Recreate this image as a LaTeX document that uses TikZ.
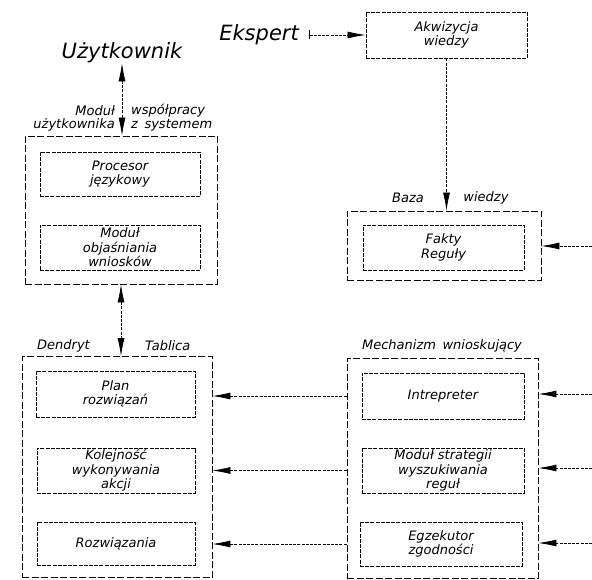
\documentclass[tikz,border=0pt]{standalone}
\usepackage{fontspec}
\setmainfont{DejaVu Sans}
\usetikzlibrary{arrows.meta}
\begin{document}
\begin{tikzpicture}[x=1pt,y=-1pt,
  txt/.style={font=\itshape\fontsize{13}{14.5}\selectfont, inner sep=0pt},
  bigtxt/.style={font=\itshape\fontsize{21}{24}\selectfont, inner sep=0pt},
  inbox/.style={draw, line width=0.85pt, dash pattern=on 4pt off 1.2pt, align=center,
    font=\itshape\fontsize{13}{14.5}\selectfont, inner sep=0pt},
  outbox/.style={draw, line width=0.9pt, dash pattern=on 7pt off 2.5pt, inner sep=0pt},
  tip/.tip={Latex[length=18pt,width=7pt]},
  conn/.style={line width=0.7pt, dash pattern=on 3pt off 1.2pt, -tip},
  dconn/.style={line width=0.7pt, dash pattern=on 3pt off 1.2pt, tip-tip}]
\useasboundingbox (0,0) rectangle (592,580);
% outer boxes
\node[outbox, minimum width=192pt, minimum height=148pt] (lt) at (121,210) {};
\node[outbox, minimum width=194pt, minimum height=69pt] (baza) at (444,245.5) {};
\node[outbox, minimum width=190pt, minimum height=221pt] (lb) at (117,467) {};
\node[outbox, minimum width=191pt, minimum height=220pt] (mech) at (442.5,468) {};
% inner boxes
\node[inbox, minimum width=161pt, minimum height=46pt] (akw) at (446.5,35) {Akwizycja\\wiedzy};
\node[inbox, minimum width=161pt, minimum height=45pt] (fakty) at (443.5,247.5) {Fakty\\Reguły};
\node[inbox, minimum width=160pt, minimum height=44pt] (proc) at (120,174) {Procesor\\językowy};
\node[inbox, minimum width=160pt, minimum height=45pt] (obj) at (120,247.5) {Moduł\\objaśniania\\wniosków};
\node[inbox, minimum width=159pt, minimum height=46pt] (plan) at (115.5,394) {Plan\\rozwiązań};
\node[inbox, minimum width=158pt, minimum height=45pt] (kol) at (116,470.5) {Kolejność\\wykonywania\\akcji};
\node[inbox, minimum width=158pt, minimum height=43pt] (rozw) at (116,543.5) {Rozwiązania};
\node[inbox, minimum width=162pt, minimum height=46pt] (intr) at (443,396) {Intrepreter};
\node[inbox, minimum width=162pt, minimum height=45pt] (strat) at (443,470.5) {Moduł strategii\\wyszukiwania\\reguł};
\node[inbox, minimum width=162pt, minimum height=44pt] (egz) at (441,544) {Egzekutor\\zgodności};
% texts
\node[bigtxt] (user) at (122,53) {Użytkownik};
\node[bigtxt, anchor=east] (eks) at (299,35) {Ekspert};
\node[txt, anchor=east] (m1) at (115,111) {Moduł};
\node[txt, anchor=east] (m2) at (115,125) {użytkownika};
\node[txt, anchor=west] (m3) at (131,111) {współpracy};
\node[txt, anchor=west] (m4) at (131,125) {z\enspace systemem};
\node[txt] (bz1) at (408,198) {Baza};
\node[txt] (bz2) at (486,198) {wiedzy};
\node[txt, anchor=west] (dd) at (37,346) {Dendryt};
\node[txt, anchor=west] (tb) at (145,346) {Tablica};
\node[txt] (mw) at (442,346) {Mechanizm\enspace wnioskujący};
% free ends
\coordinate (r1) at (592,246);
\coordinate (r2) at (592,394);
\coordinate (r3) at (592,468);
\coordinate (r4) at (592,543);
% connectors
\draw[line width=0.7pt, dash pattern=on 3pt off 1.2pt, shorten <=10pt, {Bar[width=9pt]}-tip] (eks.east) -- (akw.west);
\draw[conn] (akw.south) -- (akw.south |- baza.north);
\draw[conn] (r1) -- (r1 -| baza.east);
\draw[dconn] (user.south) -- (user.south |- lt.north);
\draw[dconn] (lt.south) -- (lt.south |- lb.north);
\draw[conn] (mech.west |- intr) -- (lb.east |- intr);
\draw[conn] (mech.west |- strat) -- (lb.east |- strat);
\draw[conn] (mech.west |- egz) -- (lb.east |- egz);
\draw[conn] (r2) -- (r2 -| mech.east);
\draw[conn] (r3) -- (r3 -| mech.east);
\draw[conn] (r4) -- (r4 -| mech.east);
\end{tikzpicture}
\end{document}
